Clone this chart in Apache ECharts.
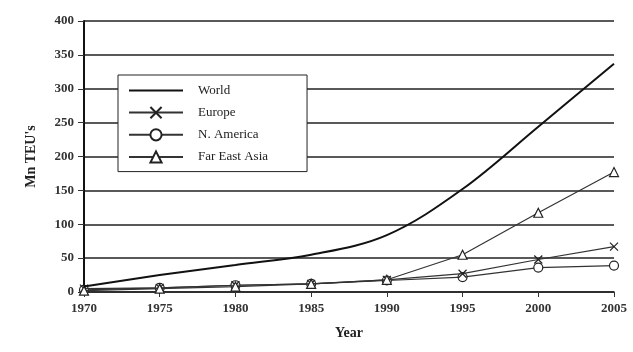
<!DOCTYPE html>
<html><head><meta charset="utf-8">
<script src="https://cdn.jsdelivr.net/npm/echarts@6/dist/echarts.min.js"></script>
<style>html,body{margin:0;padding:0;background:#fff}#c{width:633px;height:352px}</style>
</head><body><div id="c"></div>
<script>
var years = [1970, 1975, 1980, 1985, 1990, 1995, 2000, 2005];
var world = [8, 25, 40, 55, 84, 152, 244, 337];
var europe = [5, 6, 10, 12, 18, 27, 48, 67];
var nAmerica = [3, 6, 10, 12, 17, 22, 36, 39];
var farEastAsia = [2, 5, 8, 12, 18, 55, 117, 177];
var seriesNames = ['World', 'Europe', 'N. America', 'Far East Asia'];

function pairs(v){ return years.map(function(y,i){ return [y, v[i]]; }); }
var font = 'Liberation Serif, DejaVu Serif, serif';
var xSym = 'path://M0,0L10,10M10,0L0,10';
var chart = echarts.init(document.getElementById('c'), null, {renderer:'canvas'});
chart.setOption({
  animation:false,
  backgroundColor:'#fff',
  textStyle:{fontFamily:font},
  grid:{left:84, right:19, top:21, bottom:60},
  legend:{
    orient:'vertical', left:118, top:75,
    backgroundColor:'#fff', borderColor:'#222', borderWidth:1,
    padding:[9,39,8,10], itemGap:9, itemWidth:54, itemHeight:14,
    textStyle:{fontFamily:font, fontSize:13, color:'#222', padding:[0,0,0,10]},
    data:[{name:'World', icon:'path://M0,0H56V2.2H0Z'}, seriesNames[1], seriesNames[2], seriesNames[3]]
  },
  xAxis:{
    type:'value', min:1970, max:2005, interval:5,
    name:'Year', nameLocation:'middle', nameGap:34,
    nameTextStyle:{fontFamily:font, fontSize:14, fontWeight:'bold', color:'#222'},
    axisLine:{show:true, onZero:false, lineStyle:{color:'#222', width:1.5}},
    axisTick:{show:true, inside:false, length:5, lineStyle:{color:'#333'}},
    axisLabel:{fontFamily:font, fontSize:13, fontWeight:'bold', color:'#333', margin:10, formatter:function(v){return String(v);}},
    splitLine:{show:false}
  },
  yAxis:{
    type:'value', min:0, max:400, interval:50,
    name:"Mn TEU's", nameLocation:'middle', nameGap:46, nameRotate:90,
    nameTextStyle:{fontFamily:font, fontSize:14, fontWeight:'bold', color:'#222'},
    axisLine:{show:true, lineStyle:{color:'#111', width:2}},
    axisTick:{show:true, length:6, lineStyle:{color:'#333'}},
    axisLabel:{fontFamily:font, fontSize:13, fontWeight:'bold', color:'#333', margin:10},
    splitLine:{show:true, lineStyle:{color:'#222', width:1.5}}
  },
  series:[
    {name:'World', type:'line', data:pairs(world), smooth:0.35, showSymbol:false, symbol:'none',
     lineStyle:{color:'#111', width:2}, itemStyle:{color:'#111'}, z:5},
    {name:'Europe', type:'line', data:pairs(europe), symbol:xSym, symbolSize:8,
     lineStyle:{color:'#333', width:1.2}, itemStyle:{color:'#fff', borderColor:'#222', borderWidth:1.2}, z:4},
    {name:'N. America', type:'line', data:pairs(nAmerica), symbol:'circle', symbolSize:9,
     lineStyle:{color:'#333', width:1.2}, itemStyle:{color:'#fff', borderColor:'#222', borderWidth:1.2}, z:3},
    {name:'Far East Asia', type:'line', data:pairs(farEastAsia), symbol:'triangle', symbolSize:9,
     lineStyle:{color:'#333', width:1.2}, itemStyle:{color:'#fff', borderColor:'#222', borderWidth:1.2}, z:4}
  ]
});
</script></body></html>
